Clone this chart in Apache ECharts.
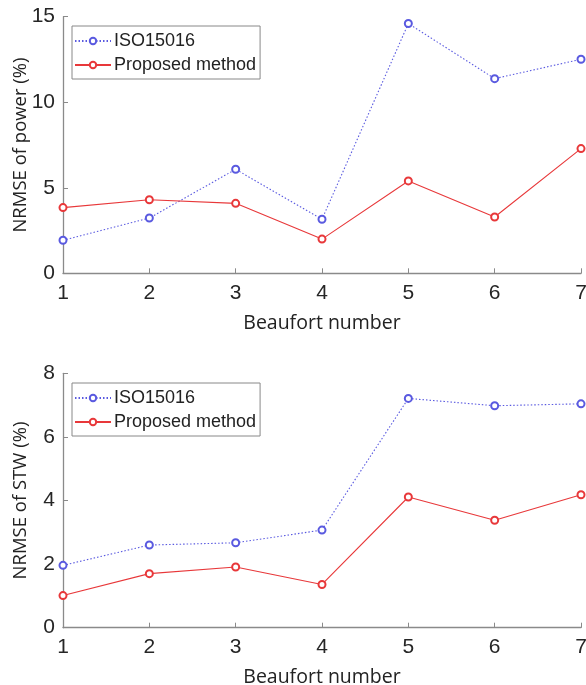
<!DOCTYPE html>
<html>
<head>
<meta charset="utf-8">
<script src="https://cdn.jsdelivr.net/npm/echarts@6/dist/echarts.min.js"></script>
<style>html,body{margin:0;padding:0;background:#fff}#c{width:586px;height:685px}</style>
</head>
<body>
<div id="c"></div>
<script>
const beaufort = [1, 2, 3, 4, 5, 6, 7];
const powerISO = [1.93, 3.23, 6.08, 3.16, 14.6, 11.38, 12.51];
const powerProposed = [3.84, 4.30, 4.09, 2.00, 5.40, 3.29, 7.29];
const stwISO = [1.96, 2.60, 2.67, 3.07, 7.21, 6.98, 7.04];
const stwProposed = [1.01, 1.70, 1.91, 1.36, 4.11, 3.38, 4.18];
const seriesNames = ['ISO15016', 'Proposed method'];
const xName = 'Beaufort number';
const yNames = ['NRMSE of power (%)', 'NRMSE of STW (%)'];

const blue = '#5a5ae0';
const red = '#e8383a';
const axisColor = '#8a8a8a';
const tickFont = 'Liberation Sans, Arial, sans-serif';
const nameFont = 'Open Sans, sans-serif';

function pairs(xs, ys) { return xs.map((x, i) => [x, ys[i]]); }

function xAxis(idx) {
  return {
    type: 'value', gridIndex: idx, min: 1, max: 7, interval: 1,
    name: xName, nameLocation: 'middle', nameGap: 40, nameMoveOverlap: false,
    nameTextStyle: { fontFamily: nameFont, fontSize: 19.5, color: '#222' },
    axisLine: { lineStyle: { color: axisColor, width: 1.3 } },
    axisTick: { inside: true, length: 5, lineStyle: { color: axisColor } },
    axisLabel: { fontFamily: tickFont, fontSize: 21, color: '#262626', margin: 9 },
    splitLine: { show: false }
  };
}
function yAxis(idx, max, interval) {
  return {
    type: 'value', gridIndex: idx, min: 0, max: max, interval: interval,
    name: yNames[idx], nameLocation: 'middle', nameGap: 33, nameRotate: 90, nameMoveOverlap: false,
    nameTextStyle: { fontFamily: nameFont, fontSize: 18.5, color: '#222' },
    axisLine: { show: true, lineStyle: { color: axisColor, width: 1.3 } },
    axisTick: { show: true, inside: true, length: 5, lineStyle: { color: axisColor } },
    axisLabel: { fontFamily: tickFont, fontSize: 21, color: '#262626', margin: 8 },
    splitLine: { show: false }
  };
}
function mkSeries(name, data, idx, color, dotted) {
  return {
    name: name, type: 'line', xAxisIndex: idx, yAxisIndex: idx,
    data: data, symbol: 'emptyCircle', symbolSize: 7,
    itemStyle: { color: color, borderColor: color, borderWidth: 1 },
    lineStyle: { color: color, width: 1.1, type: dotted ? [1.5, 2] : 'solid' },
    animation: false, silent: true
  };
}
function legend(top) {
  return {
    orient: 'vertical', left: 72, top: top,
    data: seriesNames.map(n => ({ name: n })),
    itemWidth: 36, itemHeight: 8, itemGap: 6,
    padding: [6, 4, 5, 2],
    borderColor: '#888', borderWidth: 1, backgroundColor: '#fff',
    textStyle: { fontFamily: tickFont, fontSize: 18, color: '#222', padding: [0, 0, 0, -2] },
    selectedMode: false
  };
}

const chart = echarts.init(document.getElementById('c'), null, { renderer: 'canvas' });
chart.setOption({
  animation: false,
  backgroundColor: '#fff',
  grid: [
    { left: 63, top: 16.7, width: 518, height: 256.6, containLabel: false, outerBoundsMode: 'none' },
    { left: 63, top: 373.3, width: 518, height: 254.4, containLabel: false, outerBoundsMode: 'none' }
  ],
  xAxis: [xAxis(0), xAxis(1)],
  yAxis: [yAxis(0, 15, 5), yAxis(1, 8, 2)],
  legend: [legend(26), legend(383)],
  series: [
    mkSeries(seriesNames[0], pairs(beaufort, powerISO), 0, blue, true),
    mkSeries(seriesNames[1], pairs(beaufort, powerProposed), 0, red, false),
    mkSeries(seriesNames[0], pairs(beaufort, stwISO), 1, blue, true),
    mkSeries(seriesNames[1], pairs(beaufort, stwProposed), 1, red, false)
  ]
});
</script>
</body>
</html>
